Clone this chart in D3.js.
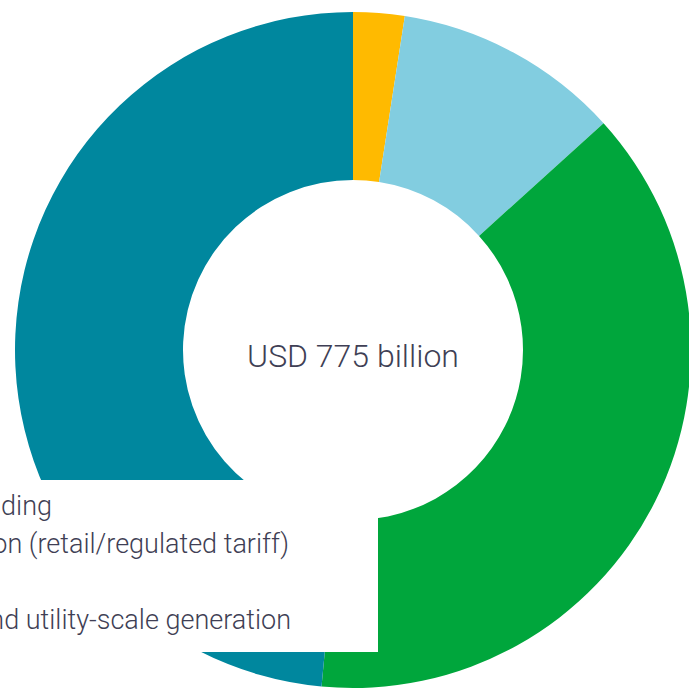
<!DOCTYPE html>
<html>
<head>
<meta charset="utf-8">
<script src="https://d3js.org/d3.v7.min.js"></script>
<style>
  body { margin: 0; background: #fff; }
  svg { display: block; }
  text { font-family: Roboto, "Liberation Sans", sans-serif; font-weight: 300; fill: #3f3f55; }
</style>
</head>
<body>
<svg id="chart" width="689" height="689"></svg>
<script>
// investment by segment, USD billion
var segments = ["Green building", "Renewable power generation (retail/regulated tariff)", "Auctions and utility-scale generation", "Other"];
var values = [19, 84, 296, 376];
var colours = ["#ffba00", "#82cde0", "#00a63c", "#00879e"];
var totalLabel = "USD 775 billion";

// legend lines that show in the picture (swatches sit off the left edge)
var legendLabels = ["Green building", "Renewable power generation (retail/regulated tariff)", "Auctions and utility-scale generation"];
var legendEnds = [52, 289, 291];
var legendRows = [0, 1, 3];

var svg = d3.select("#chart");
var cx = 353, cy = 350;

var pie = d3.pie().sort(null).value(function(d) { return d; });
var arc = d3.arc().innerRadius(170).outerRadius(338);

var g = svg.append("g").attr("transform", "translate(" + cx + "," + cy + ")");

g.selectAll(".slice")
  .data(pie(values))
  .enter().append("path")
  .attr("class", "slice")
  .attr("d", arc)
  .style("fill", function(d, i) { return colours[i]; });

// centre label
g.append("text")
  .attr("x", 0)
  .attr("y", 17)
  .attr("text-anchor", "middle")
  .style("font-size", "32px")
  .text(totalLabel);

// white legend box over the bottom left
var legend = svg.append("g");
legend.append("rect")
  .attr("x", 0)
  .attr("y", 480)
  .attr("width", 378)
  .attr("height", 172)
  .style("fill", "#fff");

var rowY = d3.scaleLinear().domain([1, 3]).range([553, 629]);

legend.selectAll("text")
  .data(legendLabels)
  .enter().append("text")
  .attr("x", function(d, i) { return legendEnds[i]; })
  .attr("y", function(d, i) { return rowY(legendRows[i]); })
  .attr("text-anchor", "end")
  .style("font-size", "27px")
  .text(function(d) { return d; });
</script>
</body>
</html>
